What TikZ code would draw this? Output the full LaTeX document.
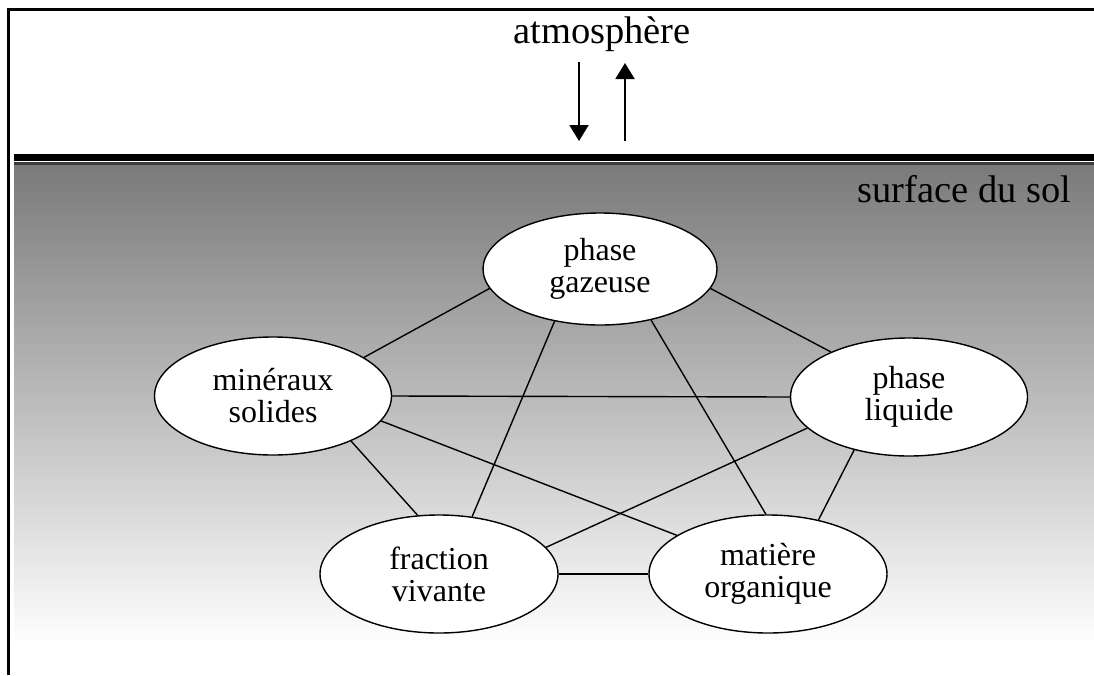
\documentclass[tikz,border=0pt]{standalone}
\usepackage{fontspec}
\setmainfont{Liberation Serif}
\usetikzlibrary{shapes.geometric,arrows.meta}
\definecolor{soiltop}{RGB}{122,122,122}
\definecolor{soilline}{RGB}{60,60,60}
\begin{document}
\begin{tikzpicture}[x=1pt,y=-1pt,
  phasenode/.style={ellipse, draw=black, fill=white, line width=1.4pt, inner sep=0pt,
    minimum width=237pt, minimum height=118pt, align=center,
    font=\fontsize{32}{32}\selectfont},
  link/.style={draw=black, line width=1.4pt},
  flux/.style={draw=black, line width=2pt, -{Triangle[width=19pt,length=16pt]}},
  bigtext/.style={font=\fontsize{38.5}{40}\selectfont, inner sep=0pt}]
\useasboundingbox (0,0) rectangle (1094,675);
% frame
\draw[line width=2.7pt] (8.7,675) -- (8.7,9.3) -- (1094,9.3);
% soil
\shade[top color=soiltop, bottom color=white] (14,164) rectangle (1094,645);
\fill[black] (14,154) rectangle (1094,161);
\fill[soilline] (14,162.3) rectangle (1094,164.5);
% texts
\node[bigtext, anchor=base] (atm) at (602,43) {atmosphère};
\node[bigtext, anchor=base] (sol) at (964.5,202) {surface du sol};
% arrows
\coordinate (d1) at (579,62);
\coordinate (d2) at (579,141);
\coordinate (u1) at (625,141);
\coordinate (u2) at (625,63);
\draw[flux] (d1) -- (d2);
\draw[flux] (u1) -- (u2);
% nodes
\node[phasenode, minimum width=234pt, minimum height=112pt] (gaz) at (600,269) {phase\\gazeuse};
\node[phasenode] (min) at (273,396) {minéraux\\solides};
\node[phasenode] (liq) at (909,397) {phase\\liquide};
\node[phasenode, minimum width=238pt] (fra) at (439,574) {fraction\\vivante};
\node[phasenode, minimum width=238pt] (mat) at (768,574) {matière\\organique};
% links
\draw[link] (gaz.190) -- (min.23);
\draw[link] (gaz.350) -- (liq.150);
\draw[link] (gaz.229) -- (fra.60);
\draw[link] (gaz.315.5) -- (mat.92);
\draw[link] (min.0) -- (liq.180);
\draw[link] (min.-30) -- (fra.110);
\draw[link] (min.-13.7) -- (mat.157.7);
\draw[link] (liq.197.4) -- (fra.14);
\draw[link] (liq.224.5) -- (mat.47);
\draw[link] (fra.0) -- (mat.180);
\end{tikzpicture}
\end{document}
